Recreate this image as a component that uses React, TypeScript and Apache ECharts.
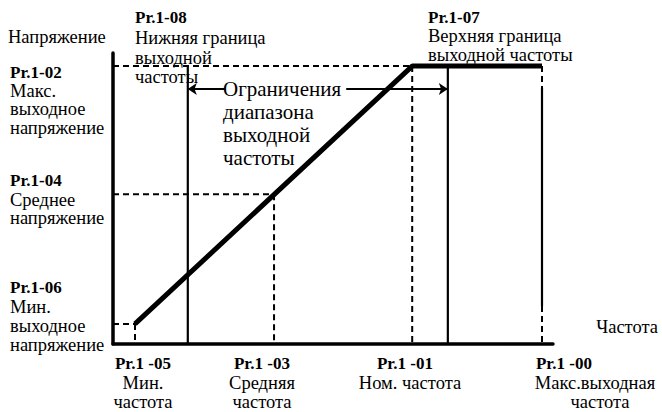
import React, { useEffect, useRef } from "react";
import * as echarts from "echarts";

// Frequencies (x units on a 0..100 axis)
const fMin = 5;      // Pr.1-05
const fLow = 17;     // Pr.1-08 lower limit
const fMid = 36.6;   // Pr.1-03
const fNom = 68;     // Pr.1-01
const fHigh = 76.1;  // Pr.1-07 upper limit
const fMax = 97.5;   // Pr.1-00
// Voltages (y units on a 0..100 axis)
const vMin = 6.9;    // Pr.1-06
const vMid = 51.5;   // Pr.1-04
const vMax = 95.5;   // Pr.1-02
const maxSolidSpan = [13, 88];
const arrowY = 87.6;
const arrowLeftStart = 25.5;
const arrowRightStart = 53;

// curve
const curveX = [fMin, fNom, fMax];
const curveY = [vMin, vMax, vMax];

const FONT = "Liberation Serif";

// [text, x, yCenter, bold, align, fontSize, lineHeight]
type T = [string, number, number, boolean, string, number, number];
const texts: T[] = [
  ["Напряжение", 8, 37, false, "left", 18.5, 19],
  ["{b|Pr.1-02}\nМакс.\nвыходное\nнапряжение", 10, 100, false, "left", 18.5, 18.6],
  ["{b|Pr.1-04}\nСреднее\nнапряжение", 10, 199.5, false, "left", 18.5, 18.6],
  ["{b|Pr.1-06}\nМин.\nвыходное\nнапряжение", 10, 316.5, false, "left", 18.5, 19.3],
  ["Pr.1-08", 135, 17, true, "left", 17, 17],
  ["Нижняя граница\nвыходной\nчастоты", 135, 57.5, false, "left", 18.5, 19.5],
  ["Pr.1-07", 428, 17, true, "left", 17, 17],
  ["Верхняя граница\nвыходной частоты", 428, 45.5, false, "left", 18.5, 19],
  ["Ограничения\nдиапазона\nвыходной\nчастоты", 223, 123.5, false, "left", 21, 23],
  ["Частота", 658, 327, false, "right", 18.5, 19],
  ["{b|Pr.1 -05}\nМин.\nчастота", 143, 382.5, false, "center", 18.5, 19.5],
  ["{b|Pr.1 -03}\nСредняя\nчастота", 262, 382.5, false, "center", 18.5, 19.5],
  ["Pr.1 -01", 405, 363, true, "center", 17, 19],
  ["Ном. частота", 410, 382.5, false, "center", 18.5, 19],
  ["Pr.1 -00", 564, 363, true, "center", 17, 19],
  ["Макс.выходная", 595, 382.5, false, "center", 18.5, 19],
  ["частота", 600, 402, false, "center", 18.5, 19],
];

const dashed = { color: "#000", width: 2, type: [6, 4] as any };
const solid = { color: "#000", width: 2.2, type: "solid" as const };

function seg(name: string, data: number[][], ls: any, z = 2) {
  return {
    name,
    type: "line",
    data,
    symbol: "none",
    silent: true,
    lineStyle: ls,
    z,
  };
}

export default function App() {
  const ref = useRef<HTMLDivElement>(null);
  useEffect(() => {
    if (!ref.current) return;
    const chart = echarts.init(ref.current, undefined, { renderer: "svg" });
    const graphic = texts.map(([t, x, y, bold, align, size, lh]) => ({
      type: "text",
      x,
      y,
      silent: true,
      style: {
        text: t,
        fill: "#000",
        fontFamily: FONT,
        fontSize: size,
        lineHeight: lh,
        fontWeight: bold ? "bold" : "normal",
        align,
        verticalAlign: "middle",
        textAlign: align,
        textVerticalAlign: "middle",
        rich: {
          b: { fontFamily: FONT, fontSize: 17, fontWeight: "bold", lineHeight: lh, fill: "#000" },
        },
      },
    }));
    chart.setOption({
      animation: false,
      backgroundColor: "#fff",
      grid: { left: 113, top: 53, width: 440, height: 291, containLabel: false },
      xAxis: {
        type: "value",
        min: 0,
        max: 100,
        axisLine: { show: true, lineStyle: { color: "#000", width: 3.5 } },
        axisTick: { show: false },
        axisLabel: { show: false },
        splitLine: { show: false },
      },
      yAxis: {
        type: "value",
        min: 0,
        max: 100,
        axisLine: { show: true, lineStyle: { color: "#000", width: 3.5 } },
        axisTick: { show: false },
        axisLabel: { show: false },
        splitLine: { show: false },
      },
      graphic,
      series: [
        seg("maxV", [[0, vMax], [fNom, vMax]], dashed),
        seg("nomF", [[fNom, vMax], [fNom, 0]], dashed),
        seg("midV", [[0, vMid], [fMid, vMid]], dashed),
        seg("midF", [[fMid, vMid], [fMid, 0]], dashed),
        seg("minV", [[0, vMin], [fMin, vMin]], dashed),
        seg("minF", [[fMin, vMin], [fMin, 0]], dashed),
        seg("maxF", [[fMax, vMax], [fMax, 0]], dashed),
        seg("maxFsolid", [[fMax, maxSolidSpan[1]], [fMax, maxSolidSpan[0]]], solid, 3),
        seg("low", [[fLow, vMax], [fLow, 0]], solid, 3),
        {
          ...seg("high", [[fHigh, vMax], [fHigh, 0]], solid, 3),
          markLine: {
            silent: true,
            symbol: ["none", "arrow"],
            symbolSize: 9,
            label: { show: false },
            lineStyle: { color: "#000", width: 2, type: "solid" },
            data: [
              [{ coord: [arrowLeftStart, arrowY] }, { coord: [fLow, arrowY] }],
              [{ coord: [arrowRightStart, arrowY] }, { coord: [fHigh, arrowY] }],
            ],
          },
        },
        seg("curve", curveX.map((x, i) => [x, curveY[i]]), { color: "#000", width: 5, type: "solid" }, 5),
      ],
    });
    return () => chart.dispose();
  }, []);
  return <div ref={ref} style={{ width: 662, height: 412, position: "absolute", left: 0, top: 0 }} />;
}
